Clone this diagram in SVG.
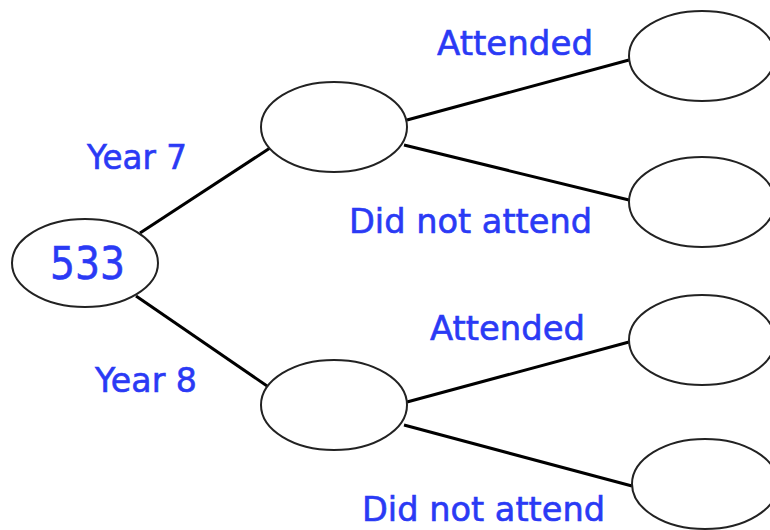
<svg xmlns="http://www.w3.org/2000/svg" width="770" height="530" viewBox="0 0 770 530">
<style>
.n{fill:#fff;stroke:#222;stroke-width:2}
.c line{stroke:#000;stroke-width:3}
.t{fill:#2a3af5;stroke:#2a3af5;stroke-width:0.6;font-family:"Comic Sans MS","DejaVu Sans","Noto Sans",sans-serif;font-size:33px}
</style>
<rect width="770" height="530" fill="#fff"/>
<g class="c" id="connectors">
<line x1="140" y1="233" x2="270" y2="148"/>
<line x1="136" y1="296" x2="270" y2="388"/>
<line x1="407" y1="120" x2="629" y2="60"/>
<line x1="404" y1="145" x2="629" y2="200"/>
<line x1="407" y1="402" x2="629" y2="342"/>
<line x1="404" y1="425" x2="632" y2="486"/>
</g>
<g id="root"><ellipse class="n" cx="85" cy="263" rx="73" ry="44"/><text class="t" x="50" y="279" textLength="75" lengthAdjust="spacingAndGlyphs" style="font-size:45px">533</text></g>
<g id="y7"><ellipse class="n" cx="334" cy="127" rx="73" ry="45"/></g>
<g id="y8"><ellipse class="n" cx="334" cy="405" rx="73" ry="45"/></g>
<g id="y7a"><ellipse class="n" cx="702" cy="56" rx="73" ry="45"/></g>
<g id="y7d"><ellipse class="n" cx="702" cy="202" rx="73" ry="45"/></g>
<g id="y8a"><ellipse class="n" cx="702" cy="340" rx="73" ry="45"/></g>
<g id="y8d"><ellipse class="n" cx="705" cy="484" rx="73" ry="45"/></g>
<g id="labels">
<text class="t" x="87" y="169" textLength="100" lengthAdjust="spacingAndGlyphs">Year 7</text>
<text class="t" x="95" y="392" textLength="102" lengthAdjust="spacingAndGlyphs">Year 8</text>
<text class="t" x="437" y="55" textLength="156" lengthAdjust="spacingAndGlyphs">Attended</text>
<text class="t" x="349" y="233" textLength="243" lengthAdjust="spacingAndGlyphs">Did not attend</text>
<text class="t" x="430" y="340" textLength="155" lengthAdjust="spacingAndGlyphs">Attended</text>
<text class="t" x="362" y="521" textLength="243" lengthAdjust="spacingAndGlyphs">Did not attend</text>
</g>
</svg>
